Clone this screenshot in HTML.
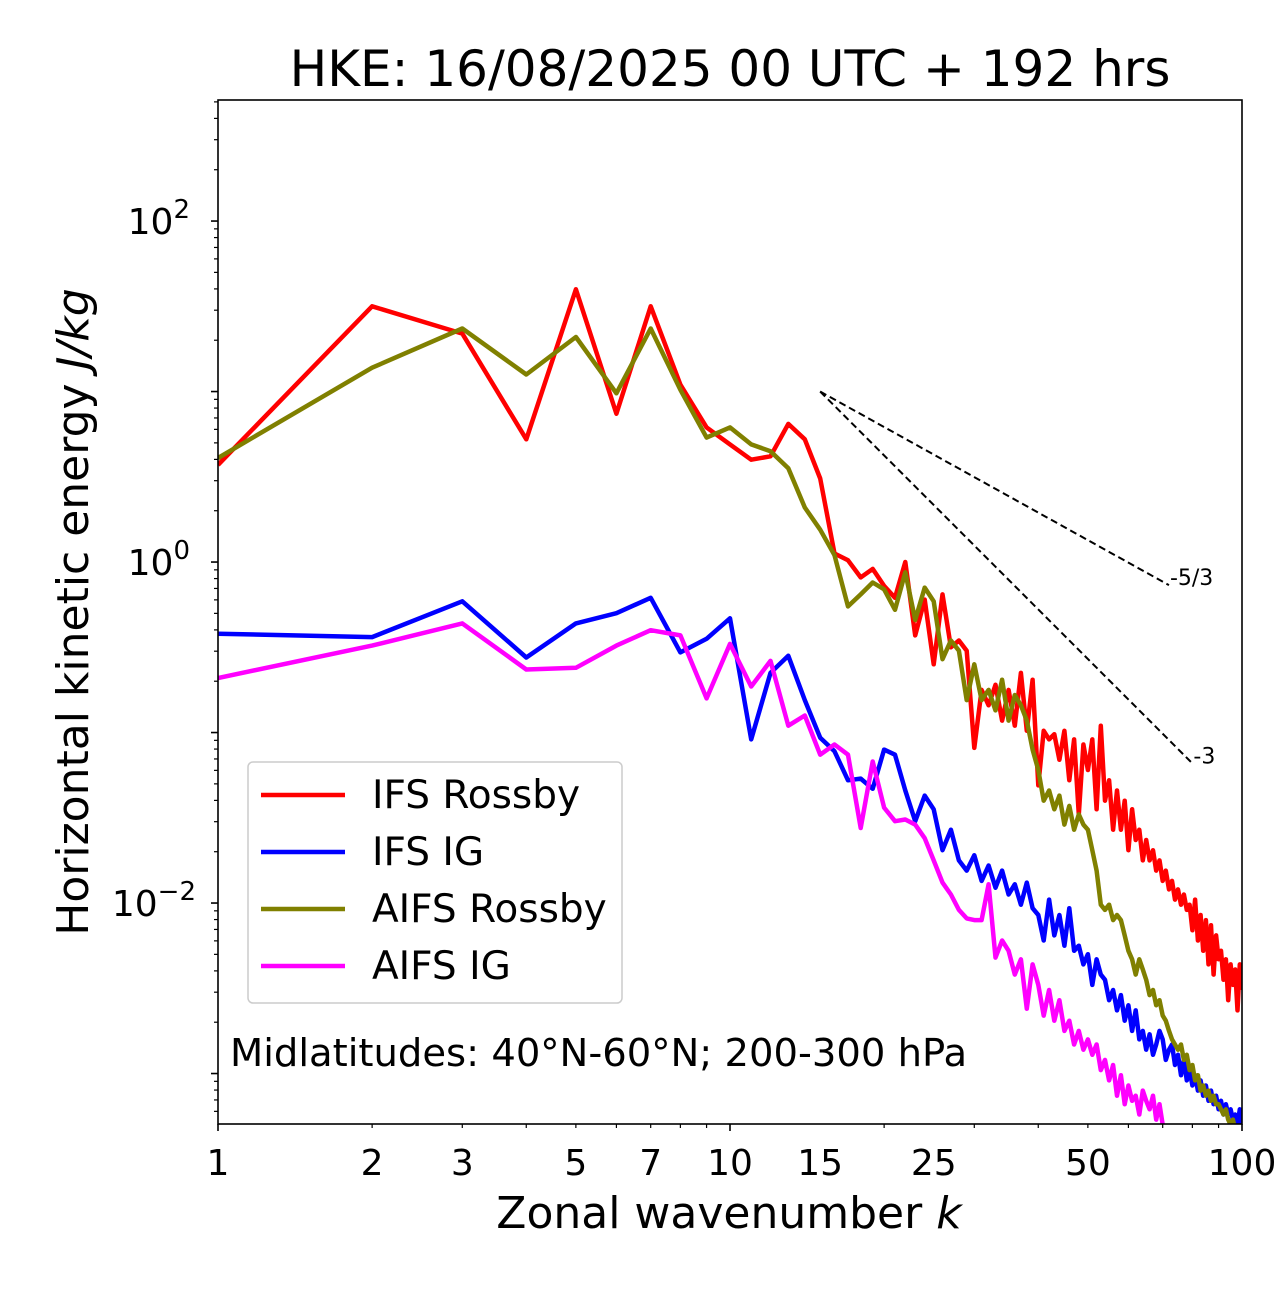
<!DOCTYPE html>
<html><head><meta charset="utf-8"><style>
body{margin:0;background:#fff;}
svg text{font-family:"DejaVu Sans","Liberation Sans",sans-serif;fill:#000;}
</style></head><body>
<svg id="chart" width="1280" height="1288" xmlns="http://www.w3.org/2000/svg">
<defs><clipPath id="clip"><rect x="218" y="100" width="1024" height="1024"/></clipPath></defs>
<rect width="1280" height="1288" fill="#fff"/>
<text x="730" y="86" font-size="50" text-anchor="middle">HKE: 16/08/2025 00 UTC + 192 hrs</text>
<g id="axes"></g>
<g id="series" clip-path="url(#clip)"></g>
<rect x="218" y="100" width="1024" height="1024" fill="none" stroke="#000" stroke-width="1.6"/>
<text x="729" y="1228" font-size="44" text-anchor="middle">Zonal wavenumber <tspan font-style="italic">k</tspan></text>
<text transform="translate(88,612) rotate(-90)" font-size="44" text-anchor="middle">Horizontal kinetic energy <tspan font-style="italic">J/kg</tspan></text>
<g>
<rect x="248" y="762" width="374" height="241" rx="5" fill="#fff" stroke="#ccc" stroke-width="1.5"/>
<line x1="261" y1="795" x2="345" y2="795" stroke="#ff0000" stroke-width="4.5"/><text x="372" y="808" font-size="39">IFS Rossby</text>
<line x1="261" y1="852" x2="345" y2="852" stroke="#0000ff" stroke-width="4.5"/><text x="372" y="865" font-size="39">IFS IG</text>
<line x1="261" y1="909" x2="345" y2="909" stroke="#808000" stroke-width="4.5"/><text x="372" y="922" font-size="39">AIFS Rossby</text>
<line x1="261" y1="966" x2="345" y2="966" stroke="#ff00ff" stroke-width="4.5"/><text x="372" y="979" font-size="39">AIFS IG</text>
</g>
<text x="230" y="1066" font-size="38.5">Midlatitudes: 40°N-60°N; 200-300 hPa</text>
</svg>
<script>
// log10 of HKE (J/kg) for k = 1,2,3,...
const ifsRossbyLog = [.57,1.50,1.34,.72,1.60,.87,1.50,1.04,.79,.69,.60,.62,.81,.72,.49,.05,.01,-.09,-.04,-.14,-.21,0,-.43,-.22,-.60,-.19,-.50,-.46,-.52,-1.09,
-.75,-.84,-.72,-.93,-.75,-.96,-.65,-.99,-.69,-1.31,-.99,-1.04,-1.01,-1.16,-.99,-1.28,-1.04,-1.48,-1.07,-1.22,-1.04,-1.45,-.96,-1.40,-1.28,-1.57,-1.34,-1.57,-1.40,-1.69,
-1.45,-1.63,-1.57,-1.75,-1.63,-1.75,-1.69,-1.81,-1.75,-1.87,-1.81,-1.92,-1.87,-1.98,-1.92,-2.01,-1.95,-2.04,-2.01,-2.16,-1.98,-2.22,-2.07,-2.28,-2.10,-2.36,-2.13,-2.42,-2.19,-2.33,
-2.28,-2.45,-2.33,-2.57,-2.36,-2.48,-2.39,-2.63,-2.36,-2.51];
const aifsRossbyLog = [.61,1.14,1.37,1.10,1.32,.99,1.37,1.01,.73,.79,.69,.65,.55,.32,.19,.04,-.26,-.19,-.12,-.16,-.28,-.06,-.34,-.15,-.23,-.57,-.46,-.52,-.81,-.60,
-.81,-.75,-.87,-.69,-.93,-.78,-.84,-.93,-1.10,-1.22,-1.40,-1.34,-1.45,-1.37,-1.54,-1.43,-1.57,-1.48,-1.54,-1.57,-1.69,-1.81,-2.01,-2.04,-2.01,-2.10,-2.07,-2.10,-2.19,-2.28,
-2.33,-2.42,-2.33,-2.39,-2.45,-2.54,-2.51,-2.60,-2.57,-2.66,-2.69,-2.75,-2.80,-2.83,-2.86,-2.83,-2.92,-2.89,-2.98,-2.95,-3.04,-3.01,-3.10,-3.07,-3.13,-3.10,-3.16,-3.13,-3.18,-3.18,
-3.21,-3.24,-3.21,-3.27,-3.30,-3.27,-3.33,-3.35,-3.33,-3.36];
const ifsIgLog = [-.42,-.44,-.23,-.56,-.36,-.30,-.21,-.53,-.45,-.33,-1.04,-.65,-.55,-.81,-1.03,-1.11,-1.28,-1.27,-1.33,-1.10,-1.13,-1.34,-1.52,-1.37,-1.45,-1.69,-1.57,-1.75,-1.81,-1.72,
-1.87,-1.78,-1.91,-1.81,-1.95,-1.89,-2.01,-1.88,-2.03,-2.07,-2.22,-1.98,-2.19,-2.07,-2.25,-2.03,-2.28,-2.25,-2.36,-2.30,-2.48,-2.33,-2.42,-2.45,-2.57,-2.51,-2.63,-2.54,-2.69,-2.60,
-2.75,-2.63,-2.80,-2.75,-2.86,-2.77,-2.89,-2.83,-2.75,-2.80,-2.92,-2.86,-2.83,-2.95,-2.89,-3.01,-2.92,-3.04,-2.98,-3.07,-3.01,-3.10,-3.04,-3.13,-3.07,-3.16,-3.10,-3.18,-3.13,-3.21,
-3.16,-3.24,-3.18,-3.24,-3.21,-3.27,-3.24,-3.30,-3.21,-3.30];
const aifsIgLog = [-.68,-.49,-.36,-.63,-.62,-.49,-.40,-.43,-.80,-.48,-.73,-.58,-.96,-.90,-1.13,-1.07,-1.13,-1.56,-1.17,-1.44,-1.52,-1.51,-1.54,-1.62,-1.75,-1.88,-1.95,-2.04,-2.09,-2.10,
-2.10,-1.89,-2.32,-2.22,-2.28,-2.42,-2.33,-2.62,-2.36,-2.48,-2.66,-2.51,-2.69,-2.57,-2.75,-2.69,-2.83,-2.75,-2.86,-2.80,-2.89,-2.83,-2.98,-2.92,-3.04,-2.95,-3.13,-3.01,-3.18,-3.07,
-3.16,-3.13,-3.24,-3.10,-3.16,-3.21,-3.13,-3.27,-3.18,-3.30,-3.40,-3.42,-3.45,-3.45,-3.48];
const xTickLabels = [1,2,3,5,7,10,15,25,50,100];
const yTickExps = [-2,0,2];
const refStartK = 15, refStartLog = 1.0;
const refSlopes = [-5/3, -3];
const refEndK = [72, 80];
const refLabels = ["-5/3","-3"];

const X0=218, XW=1024, Y0=100, YH=1024, LOGYMIN=-3.296, LOGYMAX=2.71;
const xs = k => X0 + XW*Math.log10(k)/2;
const ys = lv => Y0 + YH*(LOGYMAX-lv)/(LOGYMAX-LOGYMIN);
const NS="http://www.w3.org/2000/svg";
const axes=document.getElementById('axes'), ser=document.getElementById('series');
function mk(tag,attrs,parent){const e=document.createElementNS(NS,tag);for(const a in attrs)e.setAttribute(a,attrs[a]);parent.appendChild(e);return e;}

for(let d=0;d<2;d++)for(let m=1;m<=10;m++){const k=m*Math.pow(10,d);if(m===10&&d===0)continue;
 const x=xs(k);const major=(m===1||m===10);
 const t=mk('line',{x1:x,x2:x,y1:1124,y2:1124+(major?7:4),stroke:'#000','stroke-width':major?1.6:1.2},axes);
 
 }
xTickLabels.forEach(k=>{const t=mk('text',{x:xs(k),y:1175,'font-size':36,'text-anchor':'middle'},axes);t.textContent=k;
 
 });
for(let e=-4;e<=2;e++)for(let m=1;m<=9;m++){const lv=e+Math.log10(m);if(lv<LOGYMIN||lv>LOGYMAX)continue;
 const y=ys(lv);const major=m===1;
 const t=mk('line',{x1:218-(major?7:4),x2:218,y1:y,y2:y,stroke:'#000','stroke-width':major?1.6:1.2},axes);
 
 }
yTickExps.forEach(e=>{const y=ys(e);const t=mk('text',{x:e<0?196:190,y:y+13,'font-size':36,'text-anchor':'end'},axes);
 t.innerHTML='10<tspan dy="-16" font-size="26">'+(e<0?'\u2212':'')+Math.abs(e)+'</tspan>';
 
 });
function drawSeries(arr,color,name){const pts=arr.map((v,i)=>xs(i+1).toFixed(1)+','+ys(v).toFixed(1)).join(' ');
 const p=mk('polyline',{points:pts,fill:'none',stroke:color,'stroke-width':4.5,'stroke-linejoin':'round'},ser);
 
 }
drawSeries(ifsRossbyLog,'#ff0000','ifs-rossby-line');
drawSeries(ifsIgLog,'#0000ff','ifs-ig-line');
drawSeries(aifsRossbyLog,'#808000','aifs-rossby-line');
drawSeries(aifsIgLog,'#ff00ff','aifs-ig-line');
refSlopes.forEach((s,i)=>{const k2=refEndK[i];const l2=refStartLog+s*Math.log10(k2/refStartK);
 const l=mk('line',{x1:xs(refStartK),y1:ys(refStartLog),x2:xs(k2),y2:ys(l2),stroke:'#000','stroke-width':2,'stroke-dasharray':'7,4'},axes);
 
 
 const t=mk('text',{x:xs(k2)+1,y:ys(l2)+0,'font-size':22},axes);t.textContent=refLabels[i];
 
 });
</script>
</body></html>
